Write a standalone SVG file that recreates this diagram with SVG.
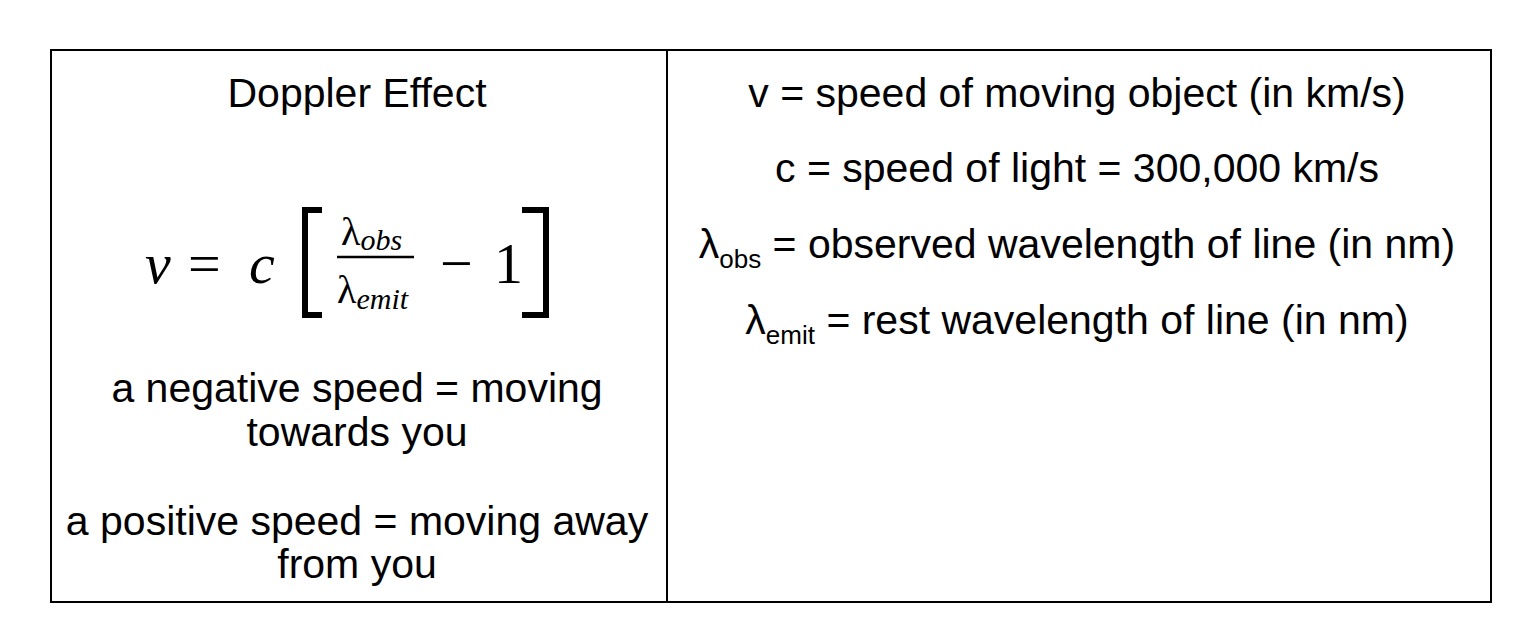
<svg xmlns="http://www.w3.org/2000/svg" width="1524" height="634" viewBox="0 0 1524 634">
<style>
.t{font-family:"Liberation Sans",Arial,sans-serif;font-size:41px;fill:#000;text-anchor:middle}
.m{font-family:"Liberation Serif","Times New Roman",serif;fill:#000}
.s{font-size:26px}
</style>
<rect width="1524" height="634" fill="#fff"/>
<g id="table" fill="none" stroke="#000" stroke-width="2">
<rect x="51" y="50" width="1440" height="552"/>
<line x1="667" y1="50" x2="667" y2="602"/>
</g>
<g id="left">
<text class="t" x="357" y="107">Doppler Effect</text>
<g id="formula">
<text class="m" x="145" y="283" font-size="58" font-style="italic">v</text>
<text class="m" x="188" y="283" font-size="58">=</text>
<text class="m" x="249" y="283" font-size="58" font-style="italic">c</text>
<path d="M322 210 H305 V315 H322" fill="none" stroke="#000" stroke-width="6"/>
<path d="M522 210 H546 V315 H522" fill="none" stroke="#000" stroke-width="6"/>
<text class="m" x="341" y="245" font-size="40">λ<tspan font-style="italic" font-size="30" dy="5">obs</tspan></text>
<line x1="337" y1="257" x2="414" y2="257" stroke="#000" stroke-width="2.5"/>
<text class="m" x="337" y="303" font-size="40">λ<tspan font-style="italic" font-size="30" dy="6">emit</tspan></text>
<text class="m" x="440" y="283" font-size="58">−</text>
<text class="m" x="494" y="283" font-size="58">1</text>
</g>
<text class="t" x="357" y="402">a negative speed = moving</text>
<text class="t" x="357" y="446">towards you</text>
<text class="t" x="357" y="535">a positive speed = moving away</text>
<text class="t" x="357" y="578">from you</text>
</g>
<g id="right">
<text class="t" x="1077" y="107">v = speed of moving object (in km/s)</text>
<text class="t" x="1077" y="182">c = speed of light = 300,000 km/s</text>
<text class="t" x="1077" y="258">λ<tspan class="s" dy="10">obs</tspan><tspan dy="-10"> = observed wavelength of line (in nm)</tspan></text>
<text class="t" x="1077" y="334">λ<tspan class="s" dy="10">emit</tspan><tspan dy="-10"> = rest wavelength of line (in nm)</tspan></text>
</g>
</svg>
